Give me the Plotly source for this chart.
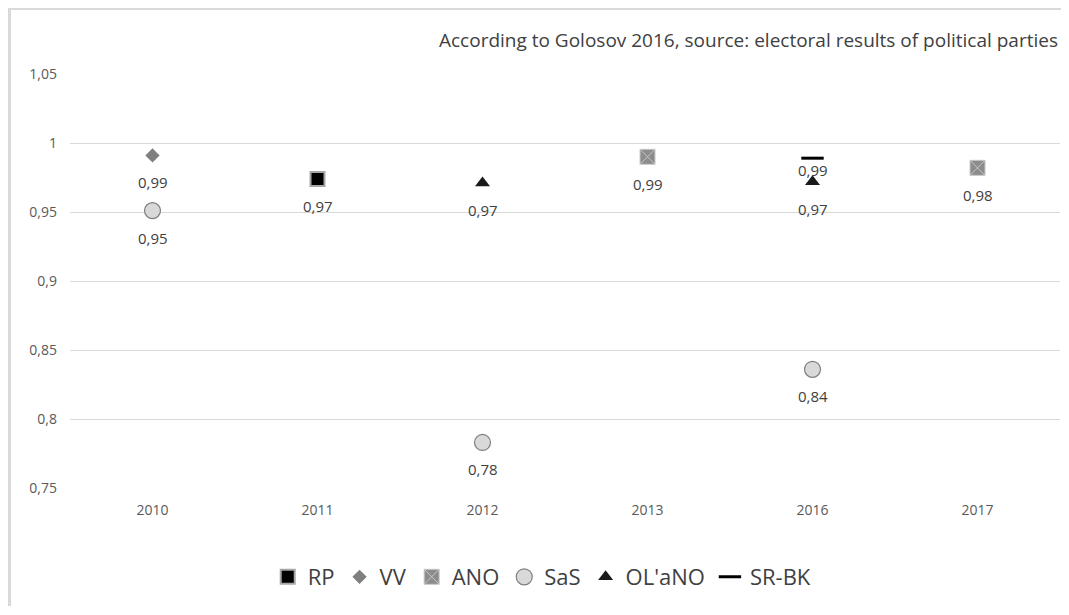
import plotly.graph_objects as go

years = ["2010", "2011", "2012", "2013", "2016", "2017"]

rp_years = ["2011"]
rp_vals = [0.974]

vv_years = ["2010"]
vv_vals = [0.991]

ano_years = ["2013", "2017"]
ano_vals = [0.990, 0.982]

sas_years = ["2010", "2012", "2016"]
sas_vals = [0.951, 0.783, 0.836]

olano_years = ["2012", "2016"]
olano_vals = [0.971, 0.972]

srbk_years = ["2016"]
srbk_vals = [0.989]

ytick_vals = [0.75, 0.8, 0.85, 0.9, 0.95, 1.0, 1.05]
ytick_labels = ["0,75", "0,8", "0,85", "0,9", "0,95", "1", "1,05"]

title_text = "According to Golosov 2016, source: electoral results of political parties"

FONT = "Open Sans"

series = [
    ("RP", rp_years, rp_vals, dict(symbol="square", size=14, color="#000000",
                                   line=dict(color="#a6a6a6", width=2)), -27),
    ("VV", vv_years, vv_vals, dict(symbol="diamond", size=11, color="#7f7f7f",
                                   line=dict(color="#7f7f7f", width=0)), -27),
    ("ANO", ano_years, ano_vals, dict(symbol="square-x", size=15, color="#8c8c8c",
                                      line=dict(color="#c8c8c8", width=1)), -27),
    ("SaS", sas_years, sas_vals, dict(symbol="circle", size=16, color="#d9d9d9",
                                      line=dict(color="#7f7f7f", width=1.2)), -27),
    ("OL'aNO", olano_years, olano_vals, dict(symbol="triangle-up", size=13, color="#1a1a1a",
                                            line=dict(color="#1a1a1a", width=0)), -27),
    ("SR-BK", srbk_years, srbk_vals, dict(symbol="line-ew", size=16, color="#000000",
                                          line=dict(color="#000000", width=3)), -12),
]

fig = go.Figure()
annotations = []
for name, xs, ys, mk, shift in series:
    fig.add_trace(go.Scatter(x=xs, y=ys, mode="markers", name=name, marker=mk,
                             hoverinfo="skip"))
    for xv, yv in zip(xs, ys):
        annotations.append(dict(x=years.index(xv), y=yv, xref="x", yref="y",
                                text=f"{yv:.2f}".replace(".", ","),
                                showarrow=False, yshift=shift,
                                font=dict(family=FONT, size=15, color="#404040")))

annotations.append(dict(x=1.0, y=1.082, xref="paper", yref="paper",
                        xanchor="right", yanchor="middle", text=title_text,
                        showarrow=False,
                        font=dict(family=FONT, size=19, color="#404040")))

shapes = [
    dict(type="rect", xref="paper", yref="paper", x0=-0.0626, x1=1.001,
         y0=1.1546, y1=1.1594, fillcolor="#d9d9d9", line=dict(width=0), layer="below"),
    dict(type="rect", xref="paper", yref="paper", x0=-0.0626, x1=-0.0596,
         y0=-0.289, y1=1.1594, fillcolor="#d9d9d9", line=dict(width=0), layer="below"),
]

fig.update_layout(
    width=1053, height=598, autosize=False,
    margin=dict(l=62, r=1, t=66, b=118),
    paper_bgcolor="white", plot_bgcolor="white",
    separators=", ",
    font=dict(family=FONT, color="#595959"),
    annotations=annotations,
    shapes=shapes,
    showlegend=True,
    legend=dict(orientation="h", x=0.477, xanchor="center", y=-0.215, yanchor="middle",
                font=dict(family=FONT, size=22, color="#404040"),
                itemwidth=30, bgcolor="rgba(0,0,0,0)"),
    xaxis=dict(type="category", categoryorder="array", categoryarray=years,
               range=[-0.5, 5.5], showgrid=False, zeroline=False, showline=False,
               tickfont=dict(family=FONT, size=14, color="#595959"),
               ticklabelstandoff=12, fixedrange=True),
    yaxis=dict(range=[0.75, 1.05], tickvals=ytick_vals, ticktext=ytick_labels,
               showgrid=True, gridcolor="#d9d9d9", gridwidth=1, zeroline=False,
               showline=False,
               tickfont=dict(family=FONT, size=14, color="#595959"),
               ticklabelstandoff=12, fixedrange=True),
)

fig.write_html("out.html")
